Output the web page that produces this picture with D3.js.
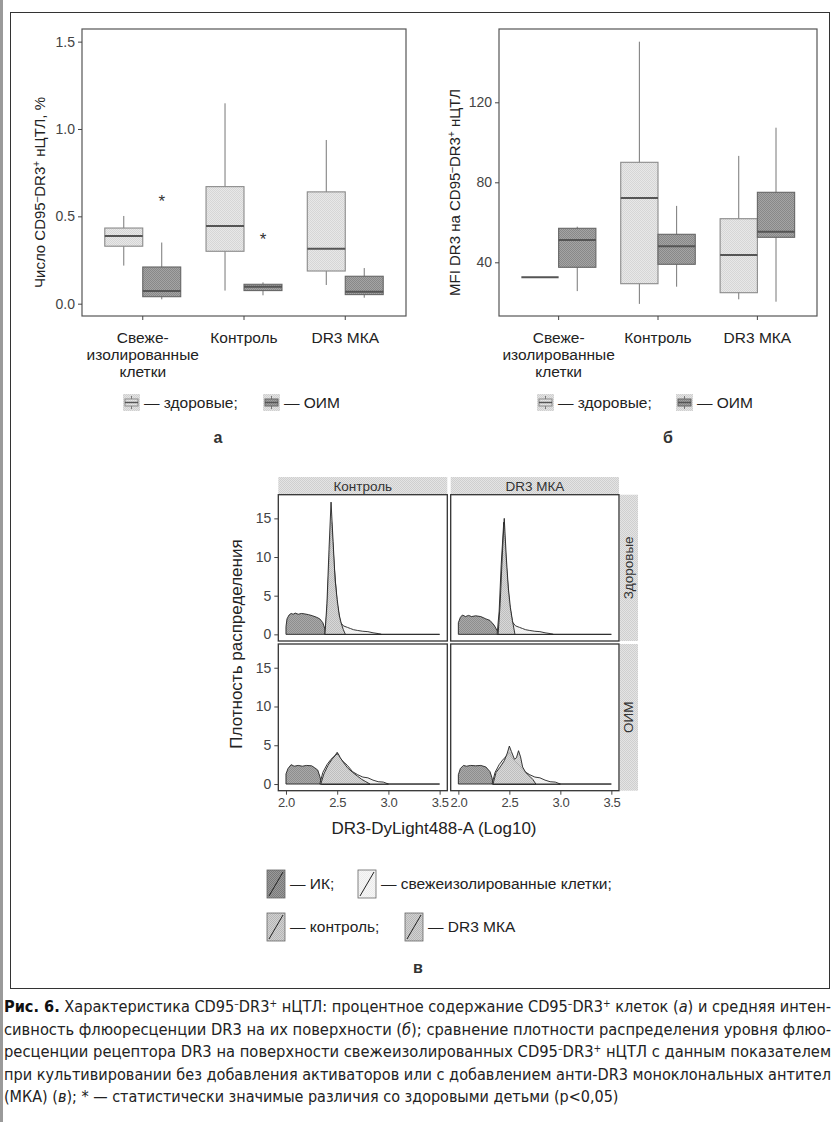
<!DOCTYPE html>
<html>
<head>
<meta charset="utf-8">
<script src="https://cdn.jsdelivr.net/npm/d3@7"></script>
<style>
  body { margin: 0; background: #fff; }
  svg { display: block; font-family: "Liberation Sans", Arial, sans-serif; }
</style>
</head>
<body>
<svg width="840" height="1122"></svg>
<script>
// ---- data ----
const groups = ["fresh", "ctrl", "dr3"];
const groupLabels = [["Свеже-", "изолированные", "клетки"], ["Контроль"], ["DR3 МКА"]];
const seriesNames = ["здоровые;", "ОИМ"];

// boxplot stats: [min, q1, median, q3, max]
const pctHealthy = [[0.218, 0.329, 0.388, 0.433, 0.502], [0.075, 0.30, 0.445, 0.67, 1.147], [0.107, 0.187, 0.315, 0.64, 0.937]];
const pctOim = [[0.025, 0.04, 0.073, 0.21, 0.35], [0.048, 0.075, 0.097, 0.111, 0.122], [0.034, 0.052, 0.069, 0.157, 0.204]];
const pctStars = [0.594, 0.374, null];
const pctTicks = [0, 0.5, 1.0, 1.5];

const mfiHealthy = [[32.5, 32.5, 32.5, 32.5, 32.5], [19.2, 29.3, 72.2, 90, 150.3], [21.5, 24.8, 43.7, 61.8, 93.2]];
const mfiOim = [[25.6, 37.5, 51.2, 57, 57.8], [27.8, 39, 48, 54, 68.2], [20.3, 52.5, 55.3, 75, 107.3]];
const mfiTicks = [40, 80, 120];

// densities, [log10 intensity, density]
const histCols = ["Контроль", "DR3 МКА"];
const histRows = ["Здоровые", "ОИМ"];
const histXTicks = [2.0, 2.5, 3.0, 3.5];
const histYTicks = [0, 5, 10, 15];

const ikHealthyCtrl = [[2.0,0],[2.0,1.0],[2.01,2.0],[2.03,2.5],[2.05,2.7],[2.07,2.6],[2.09,2.75],[2.12,2.6],[2.15,2.7],[2.18,2.65],[2.22,2.55],[2.26,2.4],[2.3,2.2],[2.33,2.0],[2.36,1.5],[2.38,0.7],[2.39,0],[3.5,0]];
const ikHealthyDr3 = [[2.0,0],[2.0,1.5],[2.02,2.2],[2.04,2.5],[2.07,2.3],[2.1,2.45],[2.13,2.3],[2.17,2.4],[2.22,2.3],[2.27,2.0],[2.31,1.8],[2.35,1.2],[2.38,0.5],[2.39,0],[3.5,0]];
const ikOimCtrl = [[2.0,0],[2.0,1.3],[2.02,2.0],[2.05,2.5],[2.08,2.3],[2.12,2.4],[2.16,2.3],[2.2,2.4],[2.25,2.35],[2.28,2.1],[2.31,1.8],[2.33,1.0],[2.35,0],[3.5,0]];
const ikOimDr3 = [[2.0,0],[2.0,1.2],[2.02,2.0],[2.05,2.4],[2.08,2.3],[2.12,2.4],[2.17,2.35],[2.22,2.4],[2.27,2.2],[2.31,1.6],[2.33,0.8],[2.34,0],[3.5,0]];

const freshHealthy = [[2.38,0],[2.4,3],[2.42,9],[2.445,14.5],[2.47,9],[2.5,4],[2.53,1.6],[2.56,1.1],[2.6,0.9],[2.63,0.75],[2.66,0.6],[2.7,0.5],[2.75,0.4],[2.8,0.35],[2.85,0.2],[2.9,0.1],[2.93,0]];
const freshOim = [[2.33,0],[2.36,1.5],[2.4,2.5],[2.44,3.2],[2.48,3.7],[2.5,4.1],[2.52,3.5],[2.55,3.0],[2.6,2.4],[2.65,1.6],[2.7,1.2],[2.75,0.9],[2.8,0.8],[2.85,0.5],[2.9,0.3],[2.95,0.25],[3.0,0]];

const ctrlHealthy = [[2.38,0],[2.4,4],[2.42,11],[2.44,17.1],[2.46,12],[2.48,7],[2.5,4.5],[2.52,2.5],[2.54,1.4],[2.56,0.6],[2.58,0]];
const dr3Healthy = [[2.39,0],[2.41,4],[2.43,10],[2.45,15.0],[2.47,10],[2.49,6],[2.51,3.5],[2.53,1.8],[2.555,0]];
const ctrlOim = [[2.34,0],[2.37,1.3],[2.41,2.4],[2.45,3.2],[2.49,3.8],[2.51,3.9],[2.53,3.4],[2.56,2.8],[2.6,2.1],[2.65,1.5],[2.7,1.0],[2.74,0.6],[2.78,0.3],[2.82,0]];
const dr3Oim = [[2.34,0],[2.37,1.5],[2.41,2.2],[2.45,3.0],[2.48,4.0],[2.5,4.9],[2.52,4.2],[2.55,3.2],[2.57,3.4],[2.59,4.3],[2.61,3.5],[2.63,2.2],[2.66,1.5],[2.7,1.0],[2.73,0.6],[2.76,0]];

const histLegend = ["ИК;", "свежеизолированные клетки;", "контроль;", "DR3 МКА"];

// ---- drawing ----
const svg = d3.select("svg");
const defs = svg.append("defs");
const FONT = "'Liberation Sans', Arial, sans-serif";

function checker(id, a, b) {
  const p = defs.append("pattern").attr("id", id).attr("width", 2).attr("height", 2)
    .attr("patternUnits", "userSpaceOnUse");
  p.append("rect").attr("width", 2).attr("height", 2).attr("fill", a);
  p.append("rect").attr("width", 1).attr("height", 1).attr("fill", b);
  p.append("rect").attr("x", 1).attr("y", 1).attr("width", 1).attr("height", 1).attr("fill", b);
}
checker("pHealthy", "#e8e8e8", "#d6d6d6");
checker("pOim", "#a4a4a4", "#888");
checker("pStrip", "#e4e4e4", "#cfcfcf");
checker("pIk", "#9a9a9a", "#7a7a7a");
checker("pFresh", "#f6f6f6", "#ececec");
checker("pCond", "#d2d2d2", "#b6b6b6");

svg.append("rect").attr("width", 840).attr("height", 1122).attr("fill", "#fff");
svg.append("rect").attr("x", 0).attr("y", 0).attr("width", 3).attr("height", 1122).attr("fill", "#9a9a9a");
svg.append("rect").attr("x", 10.5).attr("y", 12.5).attr("width", 819).attr("height", 976)
  .attr("fill", "none").attr("stroke", "#333").attr("stroke-width", 1);

function styleAxis(a, size) {
  a.attr("font-family", FONT).attr("font-size", null);
  a.select(".domain").remove();
  a.selectAll("line").attr("stroke", "#444");
  a.selectAll("text").style("font-size", size).attr("fill", "#444");
}

// y title with superscripts
function supTitle(g, parts) {
  const t = g.append("text").attr("text-anchor", "middle").style("font-size", "15px").attr("fill", "#222");
  parts.forEach(p => {
    const ts = t.append("tspan").text(p[0]);
    if (p[1]) ts.attr("baseline-shift", "super").style("font-size", "10px");
  });
  return t;
}

function boxPanel(p) {
  const x = d3.scaleBand().domain(groups).range([p.x0, p.x1]).paddingOuter(0.1).paddingInner(0);
  const y = d3.scaleLinear().domain(p.yDomain).range([p.y1, p.y0]);
  const bw = x.step() * 0.375;
  const g = svg.append("g");

  g.append("rect").attr("x", p.x0).attr("y", p.y0).attr("width", p.x1 - p.x0).attr("height", p.y1 - p.y0)
    .attr("fill", "#fff").attr("stroke", "#555").attr("stroke-width", 1.2);

  [[p.healthy, -1, "url(#pHealthy)", "#8a8a8a"], [p.oim, 1, "url(#pOim)", "#666"]].forEach(([stats, side, fill, stroke]) => {
    stats.forEach((s, i) => {
      const cx = x(groups[i]) + x.step() / 2 + side * bw / 2;
      g.append("line").attr("x1", cx).attr("x2", cx).attr("y1", y(s[0])).attr("y2", y(s[4]))
        .attr("stroke", "#777").attr("stroke-width", 1);
      g.append("rect").attr("x", cx - bw / 2).attr("y", y(s[3])).attr("width", bw)
        .attr("height", Math.max(0, y(s[1]) - y(s[3])))
        .attr("fill", fill).attr("stroke", stroke).attr("stroke-width", 1.1);
      g.append("line").attr("x1", cx - bw / 2).attr("x2", cx + bw / 2).attr("y1", y(s[2])).attr("y2", y(s[2]))
        .attr("stroke", "#555").attr("stroke-width", 2);
    });
  });

  if (p.stars) p.stars.forEach((v, i) => {
    if (v == null) return;
    g.append("text").attr("x", x(groups[i]) + x.step() / 2 + bw / 2).attr("y", y(v) + 7)
      .attr("text-anchor", "middle").style("font-size", "17px").attr("fill", "#333").text("*");
  });

  const ya = g.append("g").attr("transform", `translate(${p.x0},0)`)
    .call(d3.axisLeft(y).tickValues(p.ticks).tickSize(4).tickPadding(3).tickFormat(p.fmt));
  styleAxis(ya, "14px");

  const xa = g.append("g").attr("transform", `translate(0,${p.y1})`)
    .call(d3.axisBottom(x).tickSize(4).tickFormat(""));
  styleAxis(xa, "14px");

  groups.forEach((gr, i) => {
    const t = g.append("text").attr("text-anchor", "middle").style("font-size", "15.5px").attr("fill", "#222");
    groupLabels[i].forEach((line, k) => {
      t.append("tspan").attr("x", x(gr) + x.step() / 2).attr("y", p.y1 + 27 + k * 17).text(line);
    });
  });

  supTitle(g, p.title).attr("transform", `translate(${p.titleX},${(p.y0 + p.y1) / 2 + 20}) rotate(-90)`);

  // legend
  const ly = 394;
  [["url(#pHealthy)", "#8a8a8a"], ["url(#pOim)", "#666"]].forEach(([fill, stroke], k) => {
    const lx = p.legendX[k];
    g.append("rect").attr("x", lx).attr("y", ly).attr("width", 17).attr("height", 17).attr("fill", "url(#pStrip)");
    g.append("line").attr("x1", lx + 8.5).attr("x2", lx + 8.5).attr("y1", ly + 2).attr("y2", ly + 15).attr("stroke", "#777");
    g.append("rect").attr("x", lx + 2).attr("y", ly + 5).attr("width", 13).attr("height", 7)
      .attr("fill", fill).attr("stroke", stroke);
    g.append("line").attr("x1", lx + 2).attr("x2", lx + 15).attr("y1", ly + 8.5).attr("y2", ly + 8.5).attr("stroke", "#555").attr("stroke-width", 1.5);
    g.append("text").attr("x", lx + 21).attr("y", ly + 14).style("font-size", "15.5px").attr("fill", "#222")
      .text("— " + seriesNames[k]);
  });
  g.append("text").attr("x", p.letterX).attr("y", 443).attr("text-anchor", "middle")
    .style("font-size", "16px").style("font-weight", "bold").attr("fill", "#333").text(p.letter);
}

boxPanel({
  x0: 82, x1: 406, y0: 29, y1: 316, yDomain: [-0.0705, 1.5723], ticks: pctTicks, fmt: d3.format(".1f"),
  healthy: pctHealthy, oim: pctOim, stars: pctStars,
  title: [["Число CD95"], ["–", 1], ["DR3"], ["+", 1], [" нЦТЛ, %"]], titleX: 45,
  legendX: [123, 263], letter: "а", letterX: 218
});
boxPanel({
  x0: 499, x1: 817, y0: 29, y1: 316, yDomain: [13.15, 156.65], ticks: mfiTicks, fmt: d3.format("d"),
  healthy: mfiHealthy, oim: mfiOim, stars: null,
  title: [["MFI DR3 на CD95"], ["–", 1], ["DR3"], ["+", 1], [" нЦТЛ"]], titleX: 460,
  legendX: [537, 676], letter: "б", letterX: 668
});

// ---- density facets ----
const colX = [[278.3, 447.3], [450.7, 619]];
const rowY = [[494.7, 641], [644, 790.7]];
const densities = [
  [[ikHealthyCtrl, freshHealthy, ctrlHealthy], [ikHealthyDr3, freshHealthy, dr3Healthy]],
  [[ikOimCtrl, freshOim, ctrlOim], [ikOimDr3, freshOim, dr3Oim]]
];
const densFills = ["url(#pIk)", "url(#pFresh)", "url(#pCond)"];
const hg = svg.append("g");

histCols.forEach((c, ci) => {
  hg.append("rect").attr("x", colX[ci][0]).attr("y", 477).attr("width", colX[ci][1] - colX[ci][0]).attr("height", rowY[0][0] - 477)
    .attr("fill", "url(#pStrip)");
  hg.append("text").attr("x", (colX[ci][0] + colX[ci][1]) / 2).attr("y", 491).attr("text-anchor", "middle")
    .style("font-size", "13.5px").attr("fill", "#333").text(c);
});

histRows.forEach((r, ri) => {
  const y = d3.scaleLinear().domain([-0.86, 18.06]).range([rowY[ri][1], rowY[ri][0]]);
  hg.append("rect").attr("x", 620).attr("y", rowY[ri][0]).attr("width", 18).attr("height", rowY[ri][1] - rowY[ri][0])
    .attr("fill", "url(#pStrip)");
  hg.append("text").attr("transform", `translate(633,${(rowY[ri][0] + rowY[ri][1]) / 2}) rotate(-90)`)
    .attr("text-anchor", "middle").style("font-size", "13.5px").attr("fill", "#333").text(r);

  histCols.forEach((c, ci) => {
    const x = d3.scaleLinear().domain([1.925, 3.575]).range(colX[ci]);
    hg.append("rect").attr("x", colX[ci][0]).attr("y", rowY[ri][0]).attr("width", colX[ci][1] - colX[ci][0])
      .attr("height", rowY[ri][1] - rowY[ri][0]).attr("fill", "#fff");
    const line = d3.line().x(d => x(d[0])).y(d => y(d[1]));
    densities[ri][ci].forEach((ser, k) => {
      hg.append("path").attr("d", line(ser) + "Z").attr("fill", densFills[k]).attr("fill-opacity", k === 1 ? 0.9 : 0.85)
        .attr("stroke", "#222").attr("stroke-width", 0.9).attr("stroke-linejoin", "round");
    });
    hg.append("rect").attr("x", colX[ci][0]).attr("y", rowY[ri][0]).attr("width", colX[ci][1] - colX[ci][0])
      .attr("height", rowY[ri][1] - rowY[ri][0]).attr("fill", "none").attr("stroke", "#333").attr("stroke-width", 1.3);

    if (ci === 0) {
      const ya = hg.append("g").attr("transform", `translate(${colX[0][0]},0)`)
        .call(d3.axisLeft(y).tickValues(histYTicks).tickSize(4).tickPadding(3));
      styleAxis(ya, "14px");
    }
    if (ri === 1) {
      const xa = hg.append("g").attr("transform", `translate(0,${rowY[1][1]})`)
        .call(d3.axisBottom(x).tickValues(histXTicks).tickSize(4).tickPadding(3).tickFormat(d3.format(".1f")));
      styleAxis(xa, "13px");
      xa.selectAll("text").style("letter-spacing", "-0.4px");
    }
  });
});

hg.append("text").attr("transform", "translate(242,644) rotate(-90)").attr("text-anchor", "middle")
  .style("font-size", "17px").attr("fill", "#222").text("Плотность распределения");
hg.append("text").attr("x", 434).attr("y", 834).attr("text-anchor", "middle")
  .style("font-size", "17px").attr("fill", "#222").text("DR3-DyLight488-A (Log10)");

// density legend
const legPos = [[267, 870], [358, 870], [267, 913], [405, 913]];
histLegend.forEach((name, k) => {
  const [lx, ly] = legPos[k];
  const fill = k === 0 ? "url(#pIk)" : k === 1 ? "url(#pFresh)" : "url(#pCond)";
  hg.append("rect").attr("x", lx).attr("y", ly).attr("width", 18).attr("height", 28).attr("fill", fill)
    .attr("stroke", "#666").attr("stroke-width", 0.8);
  hg.append("line").attr("x1", lx + 2).attr("y1", ly + 26).attr("x2", lx + 16).attr("y2", ly + 2)
    .attr("stroke", "#222").attr("stroke-width", 1);
  hg.append("text").attr("x", lx + 23).attr("y", ly + 19).style("font-size", "15.5px").attr("fill", "#222")
    .text("— " + name);
});
hg.append("text").attr("x", 418).attr("y", 973).attr("text-anchor", "middle")
  .style("font-size", "16px").style("font-weight", "bold").attr("fill", "#333").text("в");

// ---- caption ----
const captionLines = [
  [["Рис. 6.", "b"], [" Характеристика CD95"], ["–", "s"], ["DR3"], ["+", "s"], [" нЦТЛ: процентное содержание CD95"], ["–", "s"], ["DR3"], ["+", "s"], [" клеток ("], ["а", "i"], [") и средняя интен-"]],
  [["сивность флюоресценции DR3 на их поверхности ("], ["б", "i"], ["); сравнение плотности распределения уровня флюо-"]],
  [["ресценции рецептора DR3 на поверхности свежеизолированных CD95"], ["–", "s"], ["DR3"], ["+", "s"], [" нЦТЛ с данным показателем"]],
  [["при культивировании без добавления активаторов или с добавлением анти-DR3 моноклональных антител"]],
  [["(МКА) ("], ["в", "i"], ["); * — статистически значимые различия со здоровыми детьми (р<0,05)"]]
];
const cap = svg.append("g").style("font-family", "'Liberation Sans Narrow', 'DejaVu Sans Condensed', sans-serif");
captionLines.forEach((parts, i) => {
  const t = cap.append("text").attr("x", 4).attr("y", 1012 + i * 22.6).style("font-size", "16px").attr("fill", "#222");
  parts.forEach(p => {
    const ts = t.append("tspan").text(p[0]);
    if (p[1] === "b") ts.style("font-weight", "bold").attr("fill", "#111");
    if (p[1] === "i") ts.style("font-style", "italic");
    if (p[1] === "s") ts.attr("baseline-shift", "super").style("font-size", "10px");
  });
  if (i < 4) t.attr("textLength", 827).attr("lengthAdjust", "spacingAndGlyphs");
});
</script>
</body>
</html>
